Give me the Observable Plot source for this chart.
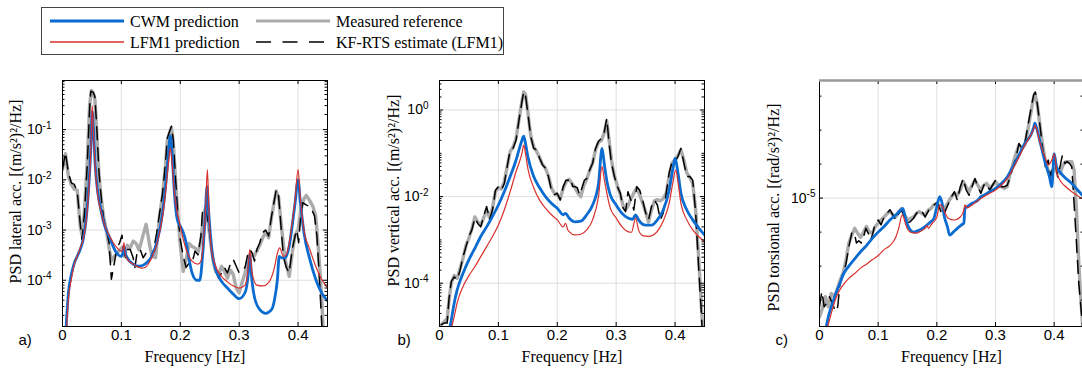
<!DOCTYPE html>
<html><head><meta charset="utf-8">
<script src="https://cdn.jsdelivr.net/npm/d3@7"></script>
<script src="https://cdn.jsdelivr.net/npm/@observablehq/plot@0.6"></script>
<style>
body{margin:0;background:#fff;}
#wrap{position:relative;width:1082px;height:371px;overflow:hidden;background:#fff;}
.panel{position:absolute;top:60px;}
#legend{position:absolute;left:41px;top:7px;width:461px;height:46px;border:1px solid #444;background:#fff;}
</style></head><body>
<div id="wrap"><div id="legend"></div></div>
<script>
// ---------- data ----------
const freqTicks = [0, 0.1, 0.2, 0.3, 0.4];
const seriesNames = ["CWM prediction", "Measured reference", "LFM1 prediction", "KF-RTS estimate (LFM1)"];
const panelLetters = ["a)", "b)", "c)"];
const yLabels = ["PSD lateral acc. [(m/s²)²/Hz]", "PSD vertical acc. [(m/s²)²/Hz]", "PSD torsional acc. [(rad/s²)²/Hz]"];
const xLabel = "Frequency [Hz]";
const lateralTicks = [1e-4, 1e-3, 1e-2, 1e-1];
const verticalTicks = [1e-4, 1e-2, 1e0];
const torsionalTicks = [1e-5];
const torsionalMinor = [1.25e-6, 2.5e-6, 5e-6, 2e-5, 4e-5, 8e-5];

// Panel a: lateral
const lateralCWM = [[0.006,1.1e-5],[0.01,5.6e-5],[0.015,1.3e-4],[0.02,2.2e-4],[0.025,3e-4],[0.03,4.1e-4],[0.035,6.4e-4],[0.04,1.6e-3],[0.045,8.7e-3],[0.048,0.04],[0.0505,0.23],[0.053,0.086],[0.055,0.025],[0.06,5.5e-3],[0.065,2.6e-3],[0.07,1.4e-3],[0.08,7.1e-4],[0.09,3.8e-4],[0.1,3e-4],[0.103,3.6e-4],[0.105,4.6e-4],[0.107,3.4e-4],[0.11,2.8e-4],[0.12,2.1e-4],[0.13,1.9e-4],[0.14,2.1e-4],[0.15,2.8e-4],[0.16,5.6e-4],[0.17,2.2e-3],[0.175,7.4e-3],[0.18,0.034],[0.183,0.075],[0.186,0.034],[0.19,5.5e-3],[0.195,1.6e-3],[0.2,1.2e-3],[0.205,8.9e-4],[0.21,5.6e-4],[0.215,2.6e-4],[0.22,1.4e-4],[0.228,1.0e-4],[0.233,1.0e-4],[0.238,3.2e-4],[0.242,1.6e-3],[0.2455,7.4e-3],[0.248,2.5e-3],[0.25,1.2e-3],[0.255,3e-4],[0.26,1.65e-4],[0.27,9.5e-5],[0.28,7e-5],[0.29,5.3e-5],[0.3,4.3e-5],[0.31,5.7e-5],[0.315,1.2e-4],[0.318,3.2e-4],[0.321,1.2e-4],[0.326,4.6e-5],[0.335,2.6e-5],[0.345,2.2e-5],[0.355,2.6e-5],[0.36,4.1e-5],[0.365,1.05e-4],[0.368,3e-4],[0.372,2.8e-4],[0.378,2.8e-4],[0.385,4.8e-4],[0.39,1.2e-3],[0.395,3.5e-3],[0.4,0.01],[0.404,3.5e-3],[0.41,8.9e-4],[0.42,2.6e-4],[0.43,1.05e-4],[0.44,5.6e-5],[0.45,3.9e-5]];
const lateralLFM = [[0.007,1.1e-5],[0.01,4.2e-5],[0.015,1.05e-4],[0.02,2.1e-4],[0.025,3e-4],[0.03,4.4e-4],[0.035,6.4e-4],[0.04,1.4e-3],[0.045,7.4e-3],[0.048,0.034],[0.0505,0.3],[0.053,0.07],[0.055,0.022],[0.06,4.7e-3],[0.065,2.4e-3],[0.07,1.4e-3],[0.08,7.6e-4],[0.09,4.8e-4],[0.1,3.8e-4],[0.103,4.5e-4],[0.1045,5.6e-4],[0.106,3.6e-4],[0.11,2.6e-4],[0.12,2.1e-4],[0.13,1.8e-4],[0.135,1.75e-4],[0.14,1.8e-4],[0.15,2.6e-4],[0.16,5.2e-4],[0.17,1.9e-3],[0.175,5.5e-3],[0.18,0.022],[0.183,0.043],[0.186,0.022],[0.19,5.5e-3],[0.2,1.2e-3],[0.21,4.1e-4],[0.22,2.4e-4],[0.23,2.1e-4],[0.235,2.4e-4],[0.24,7.6e-4],[0.243,2.6e-3],[0.246,0.016],[0.249,1.9e-3],[0.253,4.1e-4],[0.26,1.9e-4],[0.27,1.2e-4],[0.28,9.3e-5],[0.29,7.7e-5],[0.3,7e-5],[0.31,8e-5],[0.315,1.65e-4],[0.318,4.1e-4],[0.322,1.4e-4],[0.33,8e-5],[0.34,7.7e-5],[0.35,9e-5],[0.36,1.8e-4],[0.365,3.5e-4],[0.369,4.4e-4],[0.375,3e-4],[0.38,3.2e-4],[0.385,5.6e-4],[0.39,1.4e-3],[0.395,4.1e-3],[0.4,0.016],[0.404,4.1e-3],[0.41,1e-3],[0.42,4.1e-4],[0.43,1.9e-4],[0.44,1.05e-4],[0.45,7e-5]];
const lateralKF = [[0,0.016],[0.005,0.035],[0.01,0.0138],[0.015,0.0087],[0.02,0.0081],[0.025,0.0059],[0.03,1.4e-3],[0.033,6.4e-4],[0.037,1.9e-3],[0.042,0.019],[0.046,0.25],[0.048,0.58],[0.052,0.55],[0.055,0.46],[0.058,0.12],[0.062,0.0138],[0.066,4.1e-3],[0.07,1.6e-3],[0.075,9.5e-4],[0.079,5.6e-4],[0.083,1.05e-4],[0.088,2.2e-4],[0.092,4.1e-4],[0.097,5.6e-4],[0.101,7.9e-4],[0.104,3.5e-4],[0.108,2.8e-4],[0.11,4.1e-4],[0.115,4.1e-4],[0.12,2.8e-4],[0.123,1.8e-4],[0.127,3.8e-4],[0.132,4.1e-4],[0.137,2.8e-4],[0.142,3.5e-4],[0.146,2.4e-4],[0.15,2.8e-4],[0.155,4.1e-4],[0.16,8.9e-4],[0.165,2.2e-3],[0.17,5.5e-3],[0.175,0.022],[0.178,0.068],[0.182,0.093],[0.185,0.117],[0.188,0.063],[0.192,0.0102],[0.196,1.9e-3],[0.2,6.4e-4],[0.205,3e-4],[0.21,1.8e-4],[0.215,2.2e-4],[0.22,2.2e-4],[0.225,3.8e-4],[0.23,3.2e-4],[0.235,7.6e-4],[0.238,2.6e-3],[0.243,2.8e-3],[0.247,1.5e-3],[0.25,8.9e-4],[0.255,3e-4],[0.26,1.65e-4],[0.265,1.1e-4],[0.27,1.4e-4],[0.275,1.8e-4],[0.28,1.4e-4],[0.285,2.1e-4],[0.29,2.6e-4],[0.295,1.9e-4],[0.3,1.4e-4],[0.305,1.6e-4],[0.31,1.8e-4],[0.315,3.5e-4],[0.318,4.1e-4],[0.322,3.5e-4],[0.326,2.4e-4],[0.33,4.1e-4],[0.335,5.6e-4],[0.34,8.9e-4],[0.345,1e-3],[0.35,7.6e-4],[0.355,1.9e-3],[0.36,4.1e-3],[0.363,6.4e-3],[0.367,4.7e-3],[0.371,1.2e-3],[0.375,3e-4],[0.38,1.8e-4],[0.385,1.4e-4],[0.39,4.1e-4],[0.395,7.6e-4],[0.398,1e-3],[0.401,5.6e-4],[0.404,1.6e-3],[0.408,3.5e-3],[0.413,3.2e-3],[0.418,3.0e-3],[0.423,2.6e-3],[0.428,1.9e-3],[0.432,7.6e-4],[0.436,1.2e-4],[0.44,1.5e-5],[0.443,3e-6]];
const lateralMeas = [[0,0.016],[0.005,0.033],[0.01,0.012],[0.015,0.008],[0.02,0.0065],[0.025,0.0062],[0.03,1.2e-3],[0.033,8e-4],[0.037,2.2e-3],[0.042,0.022],[0.046,0.3],[0.049,0.6],[0.052,0.55],[0.055,0.4],[0.058,0.1],[0.062,0.012],[0.066,4e-3],[0.07,1.8e-3],[0.075,9e-4],[0.079,4.5e-4],[0.083,2.4e-4],[0.088,3e-4],[0.094,3.6e-4],[0.1,4.4e-4],[0.105,3e-4],[0.11,5e-4],[0.115,4.4e-4],[0.12,6e-4],[0.125,5.4e-4],[0.13,4e-4],[0.135,6.6e-4],[0.142,1.3e-3],[0.148,5e-4],[0.152,3e-4],[0.158,2.8e-4],[0.165,2e-3],[0.17,5e-3],[0.175,0.02],[0.178,0.06],[0.182,0.09],[0.185,0.11],[0.188,0.06],[0.192,0.01],[0.196,2e-3],[0.2,5e-4],[0.205,1.5e-4],[0.21,2.6e-4],[0.215,5.4e-4],[0.22,4.7e-4],[0.225,4.4e-4],[0.23,3.5e-4],[0.235,6e-4],[0.24,2.2e-3],[0.244,3e-3],[0.248,1.2e-3],[0.252,5e-4],[0.256,2.4e-4],[0.26,1.5e-4],[0.265,1.3e-4],[0.27,1.9e-4],[0.275,1.5e-4],[0.28,1.1e-4],[0.285,1.6e-4],[0.29,1.3e-4],[0.295,7e-5],[0.3,5.6e-5],[0.305,9e-5],[0.31,1.4e-4],[0.315,2.6e-4],[0.32,3.5e-4],[0.325,3e-4],[0.33,3.8e-4],[0.335,5e-4],[0.34,7e-4],[0.345,9e-4],[0.35,7e-4],[0.355,1.8e-3],[0.36,4e-3],[0.363,6e-3],[0.367,4.5e-3],[0.372,1.1e-3],[0.378,2.6e-4],[0.385,1.2e-4],[0.39,3.5e-4],[0.395,8e-4],[0.4,1e-3],[0.405,2.6e-3],[0.41,4.2e-3],[0.414,4.9e-3],[0.42,3.8e-3],[0.425,3e-3],[0.43,1.9e-3],[0.435,3.6e-4],[0.44,5e-5],[0.443,8e-6]];

// Panel b: vertical
const verticalCWM = [[0.018,1e-5],[0.02,1.4e-5],[0.025,3.5e-5],[0.03,7e-5],[0.04,1.7e-4],[0.05,3.5e-4],[0.06,6.4e-4],[0.07,1.2e-3],[0.08,2e-3],[0.09,3.5e-3],[0.1,6.4e-3],[0.11,0.013],[0.12,0.029],[0.13,0.07],[0.135,0.12],[0.14,0.2],[0.143,0.25],[0.146,0.17],[0.15,0.084],[0.16,0.029],[0.17,0.016],[0.18,0.01],[0.19,7e-3],[0.2,5.4e-3],[0.21,3.8e-3],[0.214,4.1e-3],[0.22,3.2e-3],[0.23,2.6e-3],[0.24,2.7e-3],[0.25,3.8e-3],[0.26,6.4e-3],[0.27,0.02],[0.276,0.13],[0.28,0.054],[0.285,0.02],[0.29,0.011],[0.3,6.4e-3],[0.31,4.1e-3],[0.32,3.2e-3],[0.328,3.0e-3],[0.333,3.8e-3],[0.338,2.9e-3],[0.345,2.3e-3],[0.35,2.2e-3],[0.36,2.2e-3],[0.37,2.9e-3],[0.38,4.9e-3],[0.39,0.014],[0.396,0.041],[0.4,0.077],[0.405,0.035],[0.41,0.012],[0.42,4.9e-3],[0.43,2.9e-3],[0.44,1.9e-3],[0.45,1.3e-3]];
const verticalLFM = [[0.021,1e-5],[0.025,1.7e-5],[0.03,3.5e-5],[0.04,8.4e-5],[0.05,1.5e-4],[0.06,2.4e-4],[0.07,4.1e-4],[0.08,7e-4],[0.09,1.2e-3],[0.1,2.2e-3],[0.11,4.9e-3],[0.12,0.013],[0.13,0.038],[0.14,0.1],[0.143,0.155],[0.146,0.1],[0.15,0.045],[0.16,0.016],[0.17,8.3e-3],[0.18,5.4e-3],[0.19,3.8e-3],[0.2,2.9e-3],[0.21,2e-3],[0.214,2.4e-3],[0.218,1.7e-3],[0.22,1.55e-3],[0.23,1.3e-3],[0.24,1.35e-3],[0.25,1.7e-3],[0.26,2.9e-3],[0.27,0.01],[0.276,0.049],[0.28,0.024],[0.29,5.4e-3],[0.3,3.2e-3],[0.31,2e-3],[0.32,1.55e-3],[0.326,1.5e-3],[0.333,3.2e-3],[0.338,1.7e-3],[0.345,1.25e-3],[0.355,1.2e-3],[0.365,1.35e-3],[0.375,2e-3],[0.385,4.1e-3],[0.39,7e-3],[0.396,0.02],[0.401,0.041],[0.406,0.017],[0.41,7e-3],[0.42,2.9e-3],[0.43,1.7e-3],[0.44,1.2e-3],[0.45,9.1e-4]];
const verticalKF = [[0.003,1.1e-5],[0.008,1.2e-5],[0.013,1.2e-5],[0.016,4.2e-5],[0.02,1.1e-4],[0.025,1.4e-4],[0.03,1.2e-4],[0.035,2e-4],[0.04,4.1e-4],[0.045,7e-4],[0.05,1.2e-3],[0.055,1.7e-3],[0.06,3.2e-3],[0.065,2.4e-3],[0.07,2e-3],[0.075,3.5e-3],[0.08,5.9e-3],[0.085,2.9e-3],[0.09,4.9e-3],[0.095,0.014],[0.1,0.017],[0.105,0.014],[0.11,0.02],[0.115,0.049],[0.12,0.12],[0.125,0.13],[0.13,0.2],[0.135,0.59],[0.14,1.56],[0.143,2.65],[0.146,2.2],[0.15,0.84],[0.155,0.24],[0.16,0.13],[0.165,0.12],[0.17,0.077],[0.175,0.054],[0.18,0.045],[0.185,0.029],[0.19,0.014],[0.195,0.011],[0.2,0.012],[0.205,8.3e-3],[0.21,0.017],[0.215,0.024],[0.22,0.024],[0.223,0.026],[0.226,0.017],[0.23,0.017],[0.234,0.016],[0.238,0.011],[0.242,0.016],[0.246,0.024],[0.25,0.026],[0.255,0.041],[0.26,0.059],[0.265,0.13],[0.27,0.19],[0.275,0.22],[0.28,0.32],[0.284,0.64],[0.288,0.17],[0.292,0.059],[0.297,0.029],[0.302,0.017],[0.307,0.012],[0.312,5.4e-3],[0.316,4.5e-3],[0.32,0.013],[0.325,8.3e-3],[0.33,4.9e-3],[0.335,0.017],[0.34,0.014],[0.345,8.3e-3],[0.35,4.2e-3],[0.355,2.9e-3],[0.36,5.9e-3],[0.365,8.3e-3],[0.37,6.4e-3],[0.375,2.9e-3],[0.38,4.2e-3],[0.385,0.012],[0.39,0.035],[0.395,0.064],[0.4,0.064],[0.405,0.084],[0.41,0.13],[0.415,0.059],[0.42,0.029],[0.425,0.029],[0.43,0.024],[0.435,4.2e-3],[0.44,2.4e-4],[0.445,1.7e-5],[0.447,4e-6]];
const verticalMeas = [[0.003,1.1e-5],[0.008,1.3e-5],[0.013,1.5e-5],[0.017,5e-5],[0.02,1e-4],[0.025,1.5e-4],[0.03,1.3e-4],[0.035,2.2e-4],[0.04,3.8e-4],[0.045,7.5e-4],[0.05,1.1e-3],[0.055,1.8e-3],[0.06,3.4e-3],[0.065,2.6e-3],[0.07,2.2e-3],[0.075,3.2e-3],[0.08,5e-3],[0.085,3.2e-3],[0.09,5.5e-3],[0.095,0.013],[0.1,0.016],[0.105,0.015],[0.11,0.022],[0.115,0.05],[0.12,0.11],[0.125,0.14],[0.13,0.22],[0.135,0.6],[0.14,1.6],[0.143,2.6],[0.146,2.3],[0.15,0.9],[0.155,0.25],[0.16,0.14],[0.165,0.11],[0.17,0.08],[0.175,0.055],[0.18,0.045],[0.185,0.03],[0.19,0.016],[0.195,0.012],[0.2,0.011],[0.205,9e-3],[0.21,0.015],[0.215,0.022],[0.22,0.025],[0.225,0.02],[0.23,0.016],[0.235,0.012],[0.24,0.01],[0.245,0.018],[0.25,0.025],[0.255,0.04],[0.26,0.06],[0.265,0.12],[0.27,0.18],[0.275,0.2],[0.28,0.3],[0.284,0.55],[0.288,0.2],[0.292,0.07],[0.297,0.03],[0.302,0.018],[0.307,0.011],[0.312,6e-3],[0.316,5e-3],[0.32,6e-3],[0.325,9e-3],[0.33,0.012],[0.335,0.016],[0.34,0.011],[0.345,7e-3],[0.35,4.5e-3],[0.355,2.6e-3],[0.36,5e-3],[0.365,8e-3],[0.37,8.5e-3],[0.375,8e-3],[0.38,9e-3],[0.385,0.012],[0.39,0.03],[0.395,0.06],[0.4,0.07],[0.405,0.09],[0.41,0.12],[0.415,0.07],[0.42,0.035],[0.425,0.028],[0.43,0.02],[0.435,5e-3],[0.44,4e-4],[0.445,2.5e-5],[0.448,5e-6]];

// Panel c: torsional
const torsionalCWM = [[0.011,7e-7],[0.015,8.9e-7],[0.02,1.09e-6],[0.025,1.3e-6],[0.03,1.53e-6],[0.035,1.76e-6],[0.04,2.08e-6],[0.05,2.5e-6],[0.06,2.9e-6],[0.07,3.35e-6],[0.08,3.8e-6],[0.09,4.4e-6],[0.1,5e-6],[0.11,5.6e-6],[0.12,6.4e-6],[0.13,7.1e-6],[0.138,7.8e-6],[0.142,8.1e-6],[0.146,6.8e-6],[0.15,5.8e-6],[0.155,5.2e-6],[0.16,5e-6],[0.17,5.2e-6],[0.18,5.6e-6],[0.19,6.2e-6],[0.195,6.6e-6],[0.2,8.4e-6],[0.205,1.03e-5],[0.209,9e-6],[0.213,6.8e-6],[0.218,5.6e-6],[0.222,4.7e-6],[0.228,5e-6],[0.235,5.4e-6],[0.242,5.8e-6],[0.246,6e-6],[0.248,8.1e-6],[0.252,8.4e-6],[0.26,9e-6],[0.27,9.6e-6],[0.275,1.03e-5],[0.28,1.06e-5],[0.29,1.14e-5],[0.3,1.22e-5],[0.31,1.35e-5],[0.32,1.54e-5],[0.33,1.9e-5],[0.34,2.4e-5],[0.35,3.05e-5],[0.36,3.6e-5],[0.365,4.2e-5],[0.367,4.6e-5],[0.37,4.2e-5],[0.375,3.3e-5],[0.385,2.03e-5],[0.392,1.54e-5],[0.396,1.26e-5],[0.4,2.48e-5],[0.404,1.9e-5],[0.41,1.7e-5],[0.42,1.49e-5],[0.43,1.35e-5],[0.44,1.18e-5],[0.45,1.03e-5]];
const torsionalLFM = [[0.013,7e-7],[0.02,9.5e-7],[0.025,1.17e-6],[0.03,1.38e-6],[0.04,1.7e-6],[0.05,1.95e-6],[0.06,2.15e-6],[0.07,2.4e-6],[0.08,2.6e-6],[0.09,2.85e-6],[0.1,3.1e-6],[0.11,3.5e-6],[0.12,3.8e-6],[0.13,4.5e-6],[0.135,5.4e-6],[0.141,7.1e-6],[0.144,6.6e-6],[0.147,5.8e-6],[0.155,5e-6],[0.165,4.9e-6],[0.175,5.2e-6],[0.18,5.4e-6],[0.183,5.7e-6],[0.186,5.4e-6],[0.19,5.8e-6],[0.2,6.8e-6],[0.205,8.7e-6],[0.209,8.5e-6],[0.213,7.6e-6],[0.22,6.6e-6],[0.23,6.4e-6],[0.24,6.8e-6],[0.246,7.8e-6],[0.248,8.7e-6],[0.252,8.2e-6],[0.26,8.7e-6],[0.27,9.5e-6],[0.28,1.03e-5],[0.29,1.1e-5],[0.3,1.18e-5],[0.31,1.3e-5],[0.32,1.49e-5],[0.33,1.83e-5],[0.34,2.3e-5],[0.35,2.95e-5],[0.36,3.6e-5],[0.365,4.1e-5],[0.367,4.4e-5],[0.37,4.1e-5],[0.375,3.2e-5],[0.385,2.25e-5],[0.39,1.96e-5],[0.396,2.17e-5],[0.4,2.48e-5],[0.405,1.65e-5],[0.41,1.44e-5],[0.42,1.26e-5],[0.43,1.14e-5],[0.44,1.05e-5],[0.45,9.7e-6]];
const torsionalKF = [[0,1.09e-6],[0.004,1.49e-6],[0.008,1.09e-6],[0.012,1.17e-6],[0.017,1.34e-6],[0.022,1.17e-6],[0.027,9.9e-7],[0.031,1.09e-6],[0.035,1.76e-6],[0.04,2.15e-6],[0.045,2.6e-6],[0.05,3.7e-6],[0.055,4.9e-6],[0.059,5e-6],[0.063,4e-6],[0.067,4.2e-6],[0.071,4e-6],[0.075,4.5e-6],[0.079,5.4e-6],[0.083,4.9e-6],[0.087,4.2e-6],[0.091,4.9e-6],[0.095,6e-6],[0.1,6.4e-6],[0.105,5.8e-6],[0.11,6.8e-6],[0.115,7.3e-6],[0.12,7.9e-6],[0.125,7.1e-6],[0.13,6.4e-6],[0.135,7.3e-6],[0.14,7.8e-6],[0.145,6.8e-6],[0.15,6e-6],[0.155,6.2e-6],[0.16,6.6e-6],[0.165,7.3e-6],[0.17,7.9e-6],[0.175,7.6e-6],[0.18,6.8e-6],[0.185,7.6e-6],[0.19,8.4e-6],[0.195,8.7e-6],[0.2,9.1e-6],[0.205,8.1e-6],[0.21,6.8e-6],[0.215,7.8e-6],[0.22,9e-6],[0.225,1.03e-5],[0.23,1.14e-5],[0.235,9.6e-6],[0.24,1.26e-5],[0.245,1.49e-5],[0.25,1.18e-5],[0.255,1.06e-5],[0.26,1.26e-5],[0.265,1.49e-5],[0.27,1.26e-5],[0.275,1.1e-5],[0.28,1.3e-5],[0.285,1.35e-5],[0.29,1.18e-5],[0.295,1.3e-5],[0.3,1.44e-5],[0.305,1.3e-5],[0.31,1.26e-5],[0.315,1.26e-5],[0.32,1.3e-5],[0.325,1.54e-5],[0.33,1.9e-5],[0.335,2.3e-5],[0.34,3.05e-5],[0.345,2.75e-5],[0.35,3.05e-5],[0.355,4.3e-5],[0.36,6e-5],[0.365,8.2e-5],[0.368,8.7e-5],[0.372,6.4e-5],[0.376,4.3e-5],[0.38,2.85e-5],[0.385,1.9e-5],[0.39,2.17e-5],[0.394,1.54e-5],[0.398,1.9e-5],[0.402,2.03e-5],[0.406,1.54e-5],[0.41,1.9e-5],[0.414,2.4e-5],[0.418,2.03e-5],[0.422,2.1e-5],[0.426,2.03e-5],[0.43,1.9e-5],[0.434,8.9e-6],[0.438,4e-6],[0.442,1.76e-6],[0.446,1.02e-6],[0.449,6.8e-7]];
const torsionalMeas = [[0,8.9e-7],[0.004,1.02e-6],[0.01,1.34e-6],[0.015,1.09e-6],[0.02,1.43e-6],[0.025,1.34e-6],[0.03,1.53e-6],[0.035,1.88e-6],[0.04,2.15e-6],[0.045,2.8e-6],[0.05,4e-6],[0.055,4.7e-6],[0.06,5.4e-6],[0.065,4.9e-6],[0.07,4.5e-6],[0.075,5e-6],[0.08,5.6e-6],[0.085,5e-6],[0.09,4.9e-6],[0.095,5.6e-6],[0.1,6e-6],[0.105,6.4e-6],[0.11,6.8e-6],[0.115,7.3e-6],[0.12,7.6e-6],[0.125,7.1e-6],[0.13,6.8e-6],[0.135,7.6e-6],[0.14,8.1e-6],[0.145,7.1e-6],[0.15,6.4e-6],[0.155,6.6e-6],[0.16,6.8e-6],[0.165,7.3e-6],[0.17,7.6e-6],[0.175,7.3e-6],[0.18,7.1e-6],[0.185,7.8e-6],[0.19,8.1e-6],[0.195,8.7e-6],[0.2,9e-6],[0.205,8.4e-6],[0.21,7.8e-6],[0.215,8.4e-6],[0.22,9.3e-6],[0.225,1.03e-5],[0.23,1.1e-5],[0.235,1.06e-5],[0.24,1.18e-5],[0.245,1.4e-5],[0.25,1.26e-5],[0.255,1.14e-5],[0.26,1.3e-5],[0.265,1.44e-5],[0.27,1.3e-5],[0.275,1.18e-5],[0.28,1.3e-5],[0.285,1.35e-5],[0.29,1.22e-5],[0.295,1.3e-5],[0.3,1.4e-5],[0.305,1.3e-5],[0.31,1.26e-5],[0.315,1.22e-5],[0.32,1.26e-5],[0.325,1.65e-5],[0.33,2.03e-5],[0.335,2.48e-5],[0.34,2.95e-5],[0.345,2.75e-5],[0.35,2.95e-5],[0.355,4e-5],[0.36,5.6e-5],[0.364,7.4e-5],[0.367,8.4e-5],[0.371,6.9e-5],[0.376,4.3e-5],[0.38,3.05e-5],[0.385,2.1e-5],[0.39,1.77e-5],[0.395,1.65e-5],[0.4,1.83e-5],[0.405,1.7e-5],[0.41,1.65e-5],[0.415,1.96e-5],[0.42,2.1e-5],[0.425,2.1e-5],[0.43,2.1e-5],[0.434,1.77e-5],[0.438,7.8e-6],[0.442,2.6e-6],[0.446,1.17e-6],[0.449,6.8e-7]];

// ---------- styling ----------
const colors = {cwm: "#0a6bd0", meas: "#ababab", lfm: "#d8302c", kf: "#000000"};
const dash = "13,8";
const serif = "'Liberation Serif', 'Times New Roman', 'DejaVu Serif', serif";
const sans = "'Liberation Sans', Arial, Helvetica, sans-serif";

function panel(cfg) {
  const {left, width, ml, mr, data, yDomain, yMajor, yMinor, yGrid, yLabel, letter, tickPad, yLabelDx, yLabelDy, letterDx, greyTop} = cfg;
  const mt = 20, mb = 45, height = 311;
  const pw = width - ml - mr, ph = height - mt - mb;
  const xIn = freqTicks.filter(d => d > 0);
  const marks = [
    Plot.gridX(xIn, {stroke: "#dedede", strokeOpacity: 1}),
    Plot.gridY(yGrid, {stroke: "#dedede", strokeOpacity: 1}),
    Plot.line(data.meas, {x: d => d[0], y: d => d[1], stroke: colors.meas, strokeWidth: 3.4, clip: true}),
    Plot.line(data.kf, {x: d => d[0], y: d => d[1], stroke: colors.kf, strokeWidth: 1.5, strokeDasharray: dash, clip: true}),
    Plot.line(data.cwm, {x: d => d[0], y: d => d[1], stroke: colors.cwm, strokeWidth: 2.8, curve: "monotone-x", clip: true}),
    Plot.line(data.lfm, {x: d => d[0], y: d => d[1], stroke: colors.lfm, strokeWidth: 1.2, curve: "monotone-x", clip: true}),
    Plot.tickX(xIn, {x: d => d, insetTop: ph - 4, stroke: "black"}),
    Plot.tickX(xIn, {x: d => d, insetBottom: ph - 4, stroke: "black"}),
    Plot.tickY(yMajor, {y: d => d, insetRight: pw - 4, stroke: "black"}),
    Plot.tickY(yMajor, {y: d => d, insetLeft: pw - 4, stroke: "black"}),
    Plot.tickY(yMinor, {y: d => d, insetRight: pw - 2.5, stroke: "black"}),
    Plot.tickY(yMinor, {y: d => d, insetLeft: pw - 2.5, stroke: "black"}),
    Plot.frame({stroke: "black"}),
    greyTop ? Plot.ruleY([yDomain[1]], {stroke: "#9a9a9a", strokeWidth: 2.5}) : null,
    Plot.axisX(freqTicks, {tickSize: 0, tickPadding: 3, label: null, fontSize: 15, fontFamily: sans, tickFormat: d => d === 0 ? "0" : d.toFixed(1)}),
    Plot.axisY(yMajor, {tickSize: 0, tickPadding: tickPad, label: null, fontSize: 14, fontFamily: sans, tickFormat: d => "10^" + Math.round(Math.log10(d))}),
    Plot.text([yLabel], {text: d => d, frameAnchor: "left", textAnchor: "middle", lineAnchor: "middle", rotate: -90, dx: yLabelDx, dy: yLabelDy, fontFamily: serif, fontSize: 16}),
    Plot.text([xLabel], {text: d => d, frameAnchor: "bottom", textAnchor: "middle", lineAnchor: "middle", dy: 30, fontFamily: serif, fontSize: 16}),
    Plot.text([letter], {text: d => d, frameAnchor: "bottom-left", textAnchor: "start", lineAnchor: "middle", dx: letterDx, dy: 14, fontFamily: sans, fontSize: 15})
  ];
  const svg = Plot.plot({
    width, height, marginLeft: ml, marginRight: mr, marginTop: mt, marginBottom: mb,
    x: {domain: [0, 0.45]},
    y: {type: "log", domain: yDomain},
    style: {background: "white", fontFamily: sans, color: "black", overflow: "visible"},
    marks
  });
  const ns = "http://www.w3.org/2000/svg";
  svg.querySelectorAll("text").forEach(t => {
    const m = /^10\^(-?\d+)$/.exec(t.textContent);
    if (!m) return;
    t.textContent = "";
    const a = document.createElementNS(ns, "tspan"); a.textContent = "10";
    const b = document.createElementNS(ns, "tspan"); b.textContent = m[1];
    b.setAttribute("dy", "-0.55em"); b.setAttribute("font-size", "10px");
    t.append(a, b);
  });
  svg.classList.add("panel");
  svg.style.left = left + "px";
  svg.style.position = "absolute";
  svg.style.top = "60px";
  document.getElementById("wrap").appendChild(svg);
}

const lateralMinor = d3.scaleLog().domain([1.2e-5, 0.95]).ticks().filter(d => !lateralTicks.includes(d));
const verticalMinor = d3.scaleLog().domain([1e-5, 4.8]).ticks().filter(d => !verticalTicks.includes(d));

panel({left: 0, width: 340, ml: 62, mr: 13, yDomain: [1.2e-5, 0.95], yMajor: lateralTicks, yMinor: lateralMinor, yGrid: lateralTicks,
  yLabel: yLabels[0], letter: panelLetters[0], tickPad: 11, yLabelDx: -47, yLabelDy: -12, letterDx: -44,
  data: {cwm: lateralCWM, lfm: lateralLFM, kf: lateralKF, meas: lateralMeas}});
panel({left: 340, width: 380, ml: 99, mr: 16, yDomain: [1e-5, 4.8], yMajor: verticalTicks, yMinor: verticalMinor, yGrid: verticalTicks,
  yLabel: yLabels[1], letter: panelLetters[1], tickPad: 11, yLabelDx: -46, yLabelDy: -13, letterDx: -42,
  data: {cwm: verticalCWM, lfm: verticalLFM, kf: verticalKF, meas: verticalMeas}});
panel({left: 720, width: 364, ml: 99, mr: 1, yDomain: [7.3e-7, 1.1e-4], yMajor: torsionalTicks, yMinor: torsionalMinor, yGrid: torsionalTicks,
  yLabel: yLabels[2], letter: panelLetters[2], tickPad: 4, yLabelDx: -46, yLabelDy: 4, letterDx: -44, greyTop: true,
  data: {cwm: torsionalCWM, lfm: torsionalLFM, kf: torsionalKF, meas: torsionalMeas}});

// ---------- legend ----------
const legendEntries = [
  {name: seriesNames[0], stroke: colors.cwm, sw: 3, dash: null, x: 8, y: 13},
  {name: seriesNames[1], stroke: colors.meas, sw: 3, dash: null, x: 214, y: 13},
  {name: seriesNames[2], stroke: colors.lfm, sw: 1.5, dash: null, x: 8, y: 34},
  {name: seriesNames[3], stroke: colors.kf, sw: 1.6, dash: "15,11.5", x: 214, y: 34}
];
let s = `<svg width="461" height="46" style="display:block">`;
for (const e of legendEntries) {
  s += `<line x1="${e.x}" x2="${e.x + 74}" y1="${e.y}" y2="${e.y}" stroke="${e.stroke}" stroke-width="${e.sw}"${e.dash ? ` stroke-dasharray="${e.dash}"` : ""}/>`;
  s += `<text x="${e.x + 80}" y="${e.y}" dy="0.35em" font-family="${serif.replace(/'/g, "")}" font-size="16">${e.name}</text>`;
}
s += `</svg>`;
document.getElementById("legend").innerHTML = s;
</script>
</body></html>
